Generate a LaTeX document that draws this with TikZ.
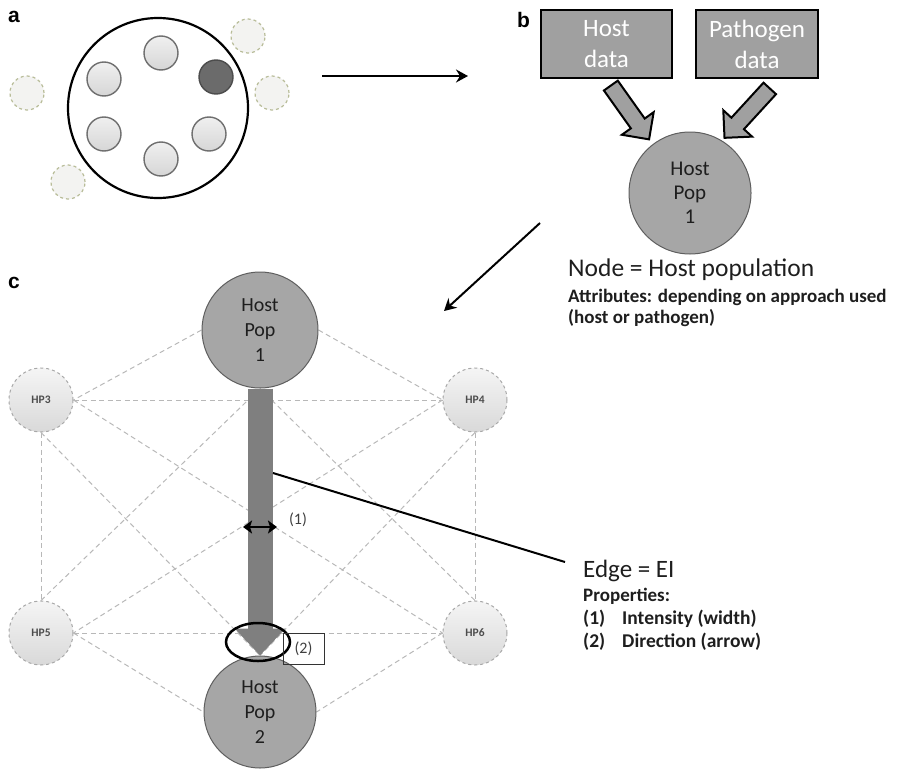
\documentclass[tikz,border=0pt]{standalone}
\usepackage{fontspec}
\setmainfont{Carlito}
\newfontfamily\arialfont{Liberation Sans}
\usetikzlibrary{arrows.meta,shapes.geometric,shapes.arrows,backgrounds,calc}
\definecolor{popfill}{HTML}{A6A6A6}
\definecolor{popedge}{HTML}{5E5E5E}
\definecolor{barcol}{HTML}{7F7F7F}
\definecolor{boxfill}{HTML}{A0A0A0}
\definecolor{dashcol}{HTML}{B8B8B8}
\definecolor{hpedge}{HTML}{A8A8A8}
\definecolor{olivedash}{HTML}{B8BC98}
\definecolor{ghostfill}{HTML}{F3F3F1}
\definecolor{txt}{HTML}{1E1E1E}
\tikzset{
  panellabel/.style={anchor=base west,inner sep=0pt,font=\arialfont\bfseries\fontsize{21}{21}\selectfont},
  cell/.style={circle,draw=popedge!90,line width=1.4pt,minimum size=34pt,inner sep=0pt,top color=gray!12,bottom color=gray!32},
  darkcell/.style={circle,draw=black!70,line width=1.4pt,minimum size=34pt,inner sep=0pt,fill=black!58},
  ghost/.style={circle,draw=olivedash,dashed,line width=1.2pt,minimum size=34pt,inner sep=0pt,fill=ghostfill},
  databox/.style={rectangle,draw=black,line width=2.5pt,fill=boxfill,text=white,align=center,inner sep=0pt,font=\fontsize{25}{31}\selectfont},
  popnode/.style={circle,draw=popedge,line width=1pt,fill=popfill,inner sep=0pt,align=center,text=txt},
  hpnode/.style={circle,draw=hpedge,dashed,line width=1pt,minimum size=64pt,inner sep=0pt,top color=gray!8,bottom color=gray!30,font=\bfseries\fontsize{11.5}{11.5}\selectfont,text=black!70},
  blockarrow/.style={single arrow,draw=black,line width=2pt,fill=boxfill,inner sep=0pt,minimum width=38pt,single arrow head extend=11pt,single arrow head indent=0pt},
  flowarrow/.style={line width=2pt,-{Stealth[length=12pt,width=13pt,inset=4pt]}},
  edgedash/.style={draw=dashcol,line width=1pt,dash pattern=on 5pt off 3.5pt},
  righttext/.style={anchor=base west,inner sep=0pt,text=txt}
}
\begin{document}
\begin{tikzpicture}[x=1pt,y=-1pt]
\useasboundingbox (0,0) rectangle (901,768);

% ---------------- panel a ----------------
\node[panellabel] (la) at (8,23) {a};
\node[circle,draw=black,line width=2.2pt,minimum size=180pt,inner sep=0pt] (pop) at (158,108) {};
\node[cell] (c1) at (161,53) {};
\node[cell] (c2) at (104,79) {};
\node[darkcell] (c3) at (216,77) {};
\node[cell] (c4) at (104,134) {};
\node[cell] (c5) at (209,134) {};
\node[cell] (c6) at (161,159) {};
\node[ghost] (g1) at (248,36) {};
\node[ghost] (g2) at (27,93) {};
\node[ghost] (g3) at (272,93) {};
\node[ghost] (g4) at (68,182) {};

\coordinate (ab1) at (322,76);
\coordinate (ab2) at (468,76);
\draw[flowarrow] (ab1) -- (ab2);

% ---------------- panel b ----------------
\node[panellabel] (lb) at (517,28) {b};
\node[databox,minimum width=131pt,minimum height=68pt] (hostdata) at (606.5,44) {Host\\data};
\node[databox,minimum width=122pt,minimum height=68pt] (pathdata) at (757,44) {Pathogen\\data};
\node[popnode,minimum size=122pt,font=\fontsize{21}{24}\selectfont] (hpb) at (690,193) {Host\\Pop\\1};
\node[blockarrow,minimum height=66pt,rotate=-54.6] (ba1) at (627.5,109) {\rule{0pt}{15pt}};
\node[blockarrow,minimum height=67pt,rotate=-132.5] (ba2) at (750,110) {\rule{0pt}{15pt}};

\coordinate (bc1) at (540,223);
\coordinate (bc2) at (444,311);
\draw[flowarrow] (bc1) -- (bc2);

\node[righttext,font=\fontsize{25.5}{25.5}\selectfont] (nodetxt) at (568,276) {Node = Host population};
\node[righttext,font=\bfseries\fontsize{19}{19}\selectfont] (attr1) at (568,302) {Attributes: depending on approach used};
\node[righttext,font=\bfseries\fontsize{19}{19}\selectfont] (attr2) at (568,323) {(host or pathogen)};

% ---------------- panel c ----------------
\node[panellabel] (lc) at (8,288) {c};
\node[popnode,minimum size=116pt,font=\fontsize{20}{25}\selectfont] (hp1) at (260,330) {Host\\Pop\\1};
\node[popnode,minimum size=112pt,font=\fontsize{20}{25}\selectfont] (hp2) at (260,712) {Host\\Pop\\2};
\node[hpnode] (hp3) at (41,400) {HP3};
\node[hpnode] (hp4) at (475,400) {HP4};
\node[hpnode] (hp5) at (41,633) {HP5};
\node[hpnode] (hp6) at (475,633) {HP6};

\begin{pgfonlayer}{background}
\draw[edgedash] (hp1.west) -- (hp3.east);
\draw[edgedash] (hp1.east) -- (hp4.west);
\draw[edgedash] (hp3.east) -- (hp4.west);
\draw[edgedash] (hp5.east) -- (hp6.west);
\draw[edgedash] (hp3.south) -- (hp5.north);
\draw[edgedash] (hp4.south) -- (hp6.north);
\draw[edgedash] (hp3.east) -- (hp6.west);
\draw[edgedash] (hp4.west) -- (hp5.east);
\draw[edgedash] (hp5.north) -- (hp1.south);
\draw[edgedash] (hp6.north) -- (hp1.south);
\draw[edgedash] (hp3.south) -- (hp2.north);
\draw[edgedash] (hp4.south) -- (hp2.north);
\draw[edgedash] (hp5.east) -- (hp2.west);
\draw[edgedash] (hp6.west) -- (hp2.east);
\end{pgfonlayer}

% main edge
\draw[barcol,line width=25pt,-{Triangle[width=49pt,length=27pt]}] (hp1.south) -- (hp2.north);

% property markers
\node[ellipse,draw=black,line width=2.5pt,minimum width=64pt,minimum height=38pt,inner sep=0pt] (dirmark) at (258,642) {};
\node[rectangle,draw=black!80,line width=0.8pt,minimum width=41pt,minimum height=31pt,inner sep=0pt,font=\fontsize{16}{16}\selectfont,text=black!75] (lab2) at (303.5,648.5) {(2)};
\coordinate (w1) at (243,527);
\coordinate (w2) at (277,527);
\draw[line width=2.8pt,{Stealth[length=9pt,width=13pt,inset=2pt]}-{Stealth[length=9pt,width=13pt,inset=2pt]}] (w1) -- (w2);
\node[inner sep=0pt,font=\fontsize{16}{16}\selectfont,text=black!75] (lab1) at (298,520) {(1)};

\coordinate (ln1) at (273,473);
\coordinate (ln2) at (565,562);
\draw[line width=2pt,black] (ln1) -- (ln2);

\node[righttext,font=\fontsize{25}{25}\selectfont] (edgetxt) at (583,577) {Edge = EI};
\node[righttext,font=\bfseries\fontsize{19}{19}\selectfont] (prop) at (583,601) {Properties:};
\node[righttext,font=\bfseries\fontsize{19.5}{19.5}\selectfont] (prop1) at (583,624) {\makebox[39pt][l]{(1)}Intensity (width)};
\node[righttext,font=\bfseries\fontsize{19.5}{19.5}\selectfont] (prop2) at (583,647) {\makebox[39pt][l]{(2)}Direction (arrow)};
\end{tikzpicture}
\end{document}
